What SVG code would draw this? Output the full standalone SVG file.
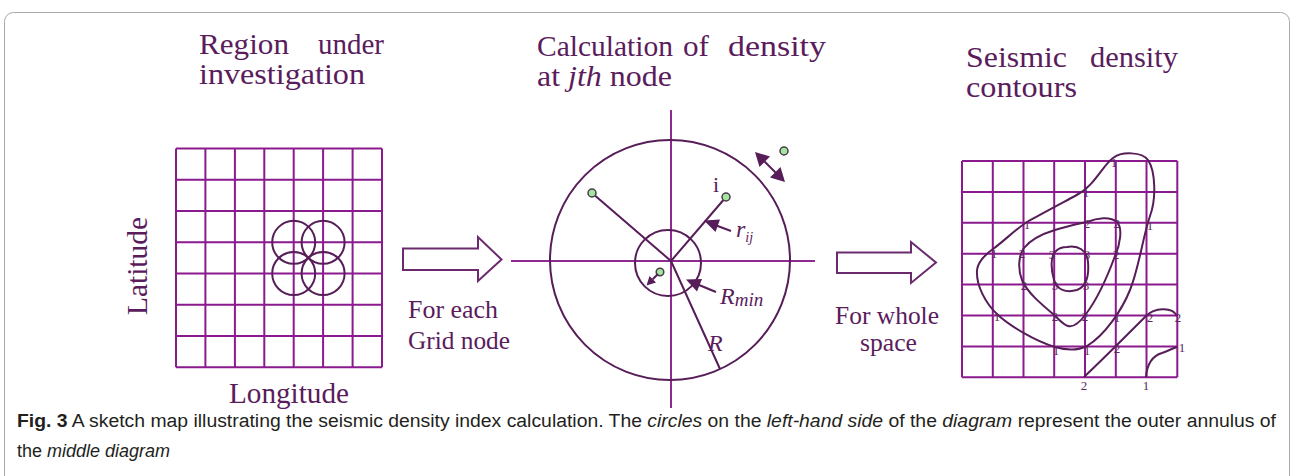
<svg xmlns="http://www.w3.org/2000/svg" width="1295" height="476" viewBox="0 0 1295 476">
<style>
.title{font-family:"Liberation Serif","Times New Roman",serif;font-size:29px;fill:#5a1c5c}
.lbl{font-family:"Liberation Serif","Times New Roman",serif;font-size:25px;fill:#5a1c5c}
.it{font-style:italic}
.grid{stroke:#8b1a8e;stroke-width:2;fill:none}
.dk{stroke:#561d58;stroke-width:2;fill:none}
.axis{stroke:#8e2a92;stroke-width:2;fill:none}
.dot{fill:#a4e6a0;stroke:#4a3a4a;stroke-width:1.5}
.head{fill:#561d58;stroke:none}
.num{font-family:"Liberation Serif","Times New Roman",serif;font-size:13px;fill:#5a2a5c;text-anchor:middle}
.blk{fill:#fff;stroke:#6b2a6e;stroke-width:2}
.cap{font-family:"Liberation Sans",Arial,sans-serif;font-size:18px;fill:#231f20}
</style>
<rect x="0" y="0" width="1295" height="476" fill="#fff"/>
<rect x="4.5" y="12.5" width="1285" height="480" rx="9" fill="none" stroke="#a8a8a8" stroke-width="1"/>

<g id="left-panel">
<text class="title" x="199" y="54" textLength="90" lengthAdjust="spacingAndGlyphs">Region</text>
<text class="title" x="318" y="54" textLength="66" lengthAdjust="spacingAndGlyphs">under</text>
<text class="title" x="199" y="84" textLength="166" lengthAdjust="spacingAndGlyphs">investigation</text>
<path class="grid" d="M176,148.5H382M176,179.8H382M176,211H382M176,242.3H382M176,273.5H382M176,304.8H382M176,336H382M176,367.3H382M176,148.5V367.3M205.4,148.5V367.3M234.9,148.5V367.3M264.3,148.5V367.3M293.7,148.5V367.3M323.1,148.5V367.3M352.6,148.5V367.3M382,148.5V367.3"/>
<circle class="dk" cx="293.7" cy="242.3" r="21.5"/>
<circle class="dk" cx="323.1" cy="242.3" r="21.5"/>
<circle class="dk" cx="293.7" cy="273.5" r="21.5"/>
<circle class="dk" cx="323.1" cy="273.5" r="21.5"/>
<text class="title" transform="translate(147,266) rotate(-90)" text-anchor="middle" textLength="98" lengthAdjust="spacingAndGlyphs">Latitude</text>
<text class="title" x="229" y="403" textLength="120" lengthAdjust="spacingAndGlyphs">Longitude</text>
</g>

<g id="middle-panel">
<text class="title" x="537" y="56" textLength="136" lengthAdjust="spacingAndGlyphs">Calculation</text>
<text class="title" x="683" y="56" textLength="26" lengthAdjust="spacingAndGlyphs">of</text>
<text class="title" x="728" y="56" textLength="98" lengthAdjust="spacingAndGlyphs">density</text>
<text class="title" x="537" y="86" textLength="135" lengthAdjust="spacingAndGlyphs">at <tspan class="it">jth</tspan> node</text>
<path class="axis" d="M511,261H815M671,110V408"/>
<circle class="dk" cx="670" cy="260" r="120"/>
<circle class="dk" cx="668" cy="263" r="33"/>
<path class="dk" d="M671,261L592,193M671,261L726,197M671,261L720,369"/>
<circle class="dot" cx="592" cy="193" r="4"/>
<circle class="dot" cx="726" cy="197" r="4"/>
<circle class="dot" cx="660" cy="272" r="3.8"/>
<circle class="dot" cx="784" cy="151" r="4"/>
<text class="title" x="713" y="192" style="font-size:22px">i</text>
<path class="dk" d="M717,225.7L731,231"/>
<polygon class="head" points="704,220.5 720,219.5 715.5,232"/>
<text class="title it" x="736" y="237" style="font-size:24px">r<tspan dy="5" style="font-size:14px">ij</tspan></text>
<path class="dk" d="M699,285L716,292"/>
<polygon class="head" points="686,279.5 702,279 697,291.5"/>
<text class="title it" x="720" y="304" style="font-size:24px">R<tspan dy="2" style="font-size:19px">min</tspan></text>
<text class="title it" x="708" y="351" style="font-size:24px">R</text>
<path class="dk" d="M658,274L652.7,279.3" stroke-width="1.5"/>
<polygon class="head" points="646.5,285.5 656,282.5 649.5,276"/>
<path class="dk" d="M764.5,161.5L775.5,172.5"/>
<polygon class="head" points="755,152 770,156.5 759.5,167"/>
<polygon class="head" points="785,182 780.5,167 770,177.5"/>
</g>

<g id="right-panel">
<text class="title" x="966" y="67" textLength="101" lengthAdjust="spacingAndGlyphs">Seismic</text>
<text class="title" x="1090" y="67" textLength="88" lengthAdjust="spacingAndGlyphs">density</text>
<text class="title" x="966" y="97" textLength="111" lengthAdjust="spacingAndGlyphs">contours</text>
<path class="grid" d="M962,161H1177.3M962,191.9H1177.3M962,222.8H1177.3M962,253.7H1177.3M962,284.6H1177.3M962,315.5H1177.3M962,346.4H1177.3M962,377.3H1177.3M962,161V377.3M992.8,161V377.3M1023.5,161V377.3M1054.2,161V377.3M1085,161V377.3M1115.8,161V377.3M1146.5,161V377.3M1177.3,161V377.3"/>
<path class="dk" d="M1075,196C1095,186 1102,166 1113,158C1122,151 1142,152 1148,160C1156,172 1156,200 1150,216C1143,236 1139,268 1130,290C1122,310 1105,335 1087,346C1075,352 1062,349 1055,347C1035,341 1010,326 998,315C985,303 976,285 977,270C978,262 986,254 993,249C1004,241 1016,229 1027,222C1043,213 1062,203 1075,196Z"/>
<path class="dk" d="M1087,222C1097,218 1110,216 1117,222C1123,228 1120,245 1115,256C1108,275 1098,298 1086,314C1080,322 1074,328 1068,326C1062,324 1058,318 1053,314C1040,303 1027,292 1022,280C1018,270 1018,256 1024,248C1032,238 1045,233 1055,230C1068,226 1078,224 1087,222Z"/>
<path class="dk" d="M1067,247C1078,245 1087,250 1088,262C1089,274 1088,286 1077,290C1066,293 1057,290 1054,280C1051,270 1050,256 1056,251C1059,248 1063,247 1067,247Z"/>
<path class="dk" d="M1084,377C1100,362 1132,330 1146,316C1154,308 1172,306 1177,316"/>
<path class="dk" d="M1146,377C1147,365 1152,356 1162,353C1168,351 1173,348 1177,347"/>
<g>
<text class="num" x="1114" y="167">1</text>
<text class="num" x="1086" y="197">1</text>
<text class="num" x="1027" y="229">1</text>
<text class="num" x="1150" y="230">1</text>
<text class="num" x="994" y="258">1</text>
<text class="num" x="997" y="321">1</text>
<text class="num" x="1056" y="355">1</text>
<text class="num" x="1087" y="355">1</text>
<text class="num" x="1117" y="322">1</text>
<text class="num" x="1022" y="258">2</text>
<text class="num" x="1024" y="290">2</text>
<text class="num" x="1055" y="321">2</text>
<text class="num" x="1085" y="321">2</text>
<text class="num" x="1116" y="259">2</text>
<text class="num" x="1117" y="228">2</text>
<text class="num" x="1087" y="228">2</text>
<text class="num" x="1052" y="259">3</text>
<text class="num" x="1087" y="259">3</text>
<text class="num" x="1055" y="290">3</text>
<text class="num" x="1086" y="290">3</text>
<text class="num" x="1084" y="390">2</text>
<text class="num" x="1117" y="353">2</text>
<text class="num" x="1150" y="322">2</text>
<text class="num" x="1178" y="322">2</text>
<text class="num" x="1146" y="390">1</text>
<text class="num" x="1182" y="352">1</text>
</g>
</g>

<g id="connectors">
<g id="arrow-each">
<polygon class="blk" points="403,248.5 478,248.5 478,237 501.5,259.5 478,281 478,270 403,270"/>
<text class="lbl" x="408" y="318" textLength="90" lengthAdjust="spacingAndGlyphs">For each</text>
<text class="lbl" x="408" y="349" textLength="102" lengthAdjust="spacingAndGlyphs">Grid node</text>
</g>
<g id="arrow-whole">
<polygon class="blk" points="837,252.5 911,252.5 911,242 936,262.5 911,283 911,273 837,273"/>
<text class="lbl" x="835" y="324" textLength="104" lengthAdjust="spacingAndGlyphs">For whole</text>
<text class="lbl" x="860" y="351" textLength="57" lengthAdjust="spacingAndGlyphs">space</text>
</g>
</g>

<g id="caption">
<text class="cap" x="17" y="427" textLength="1259" lengthAdjust="spacingAndGlyphs"><tspan font-weight="bold">Fig. 3</tspan>  A sketch map illustrating the seismic density index calculation. The <tspan class="it">circles</tspan> on the <tspan class="it">left-hand side</tspan> of the <tspan class="it">diagram</tspan> represent the outer annulus of</text>
<text class="cap" x="17" y="457">the <tspan class="it">middle diagram</tspan></text>
</g>
</svg>
